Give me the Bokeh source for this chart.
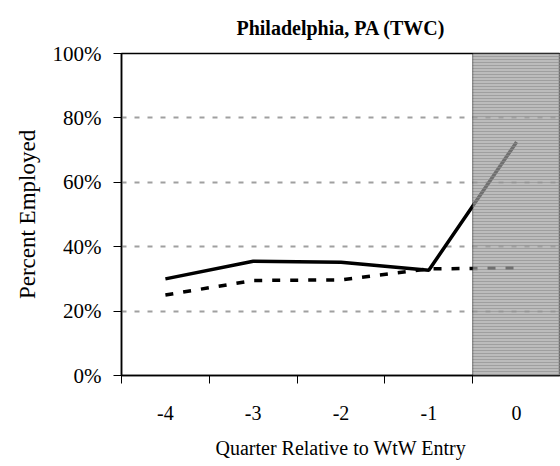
from bokeh.plotting import figure
from bokeh.models import Range1d, FixedTicker, Span, BoxAnnotation, CustomJSTickFormatter
from bokeh.embed import file_html
from bokeh.resources import INLINE

quarters = [-4, -3, -2, -1, 0]
tick_labels = ["-4", "-3", "-2", "-1", "0"]
employed_solid = [0.30, 0.355, 0.352, 0.327, 0.725]
employed_dashed = [0.25, 0.295, 0.297, 0.331, 0.334]
y_ticks = [0, 0.2, 0.4, 0.6, 0.8, 1.0]
shade_start = -0.5

FONT = "Liberation Serif"

p = figure(width=560, height=461, output_backend="svg", toolbar_location=None,
           x_range=Range1d(-4.5, 0.5), y_range=Range1d(0, 1.0),
           min_border_left=121, min_border_right=0, min_border_top=53, min_border_bottom=81)

p.title.text = "Philadelphia, PA (TWC)"
p.title.text_font = FONT
p.title.text_font_size = "20px"
p.title.text_font_style = "bold"
p.title.align = "center"
p.title.text_color = "black"
p.title.standoff = 29

p.background_fill_color = "white"
p.border_fill_color = "white"
p.outline_line_color = "black"
p.outline_line_width = 1.5

p.line(quarters, employed_solid, line_color="black", line_width=3.5)
p.line(quarters, employed_dashed, line_color="black", line_width=3.5, line_dash="8 10")

shade = BoxAnnotation(left=shade_start, right=0.5, bottom=0, top=1.0,
                      fill_color="#a0a0a0", fill_alpha=0.7,
                      hatch_pattern="horizontal_line", hatch_color="#8c8c8c",
                      hatch_alpha=0.6, hatch_scale=3, hatch_weight=1,
                      line_color=None, level="overlay")
p.add_layout(shade)
p.add_layout(Span(location=shade_start, dimension="height", line_color="black",
                  line_width=1, line_dash="1 1", level="overlay"))

# y axis
p.yaxis.ticker = FixedTicker(ticks=y_ticks)
p.yaxis.formatter = CustomJSTickFormatter(code="return Math.round(tick*100) + '%';")
p.yaxis.axis_label = "Percent Employed"
p.yaxis.major_tick_out = 8
p.yaxis.major_tick_in = 0
p.yaxis.minor_tick_out = 0
p.yaxis.minor_tick_in = 0
p.yaxis.major_label_standoff = 12
p.yaxis.axis_label_standoff = 10

# x axis
p.xaxis.ticker = FixedTicker(ticks=quarters, minor_ticks=[-4.5, -3.5, -2.5, -1.5, -0.5])
p.xaxis.major_label_overrides = {q: l for q, l in zip(quarters, tick_labels)}
p.xaxis.axis_label = "Quarter Relative to WtW Entry"
p.xaxis.major_tick_out = 0
p.xaxis.major_tick_in = 0
p.xaxis.minor_tick_out = 8
p.xaxis.minor_tick_in = 0
p.xaxis.minor_tick_line_color = "black"
p.xaxis.major_label_standoff = 22
p.xaxis.axis_label_standoff = 14

for ax in (p.xaxis, p.yaxis):
    ax.axis_line_color = "black"
    ax.axis_line_width = 1.5
    ax.major_tick_line_color = "black"
    ax.major_label_text_font = FONT
    ax.major_label_text_font_size = "21px"
    ax.major_label_text_color = "black"
    ax.axis_label_text_font = FONT
    ax.axis_label_text_font_size = "20px"
    ax.axis_label_text_font_style = "normal"
    ax.axis_label_text_color = "black"
p.yaxis.axis_label_text_font_size = "23px"
p.xaxis.major_label_text_font_size = "20px"

p.xgrid.grid_line_color = None
p.ygrid.ticker = FixedTicker(ticks=[0.2, 0.4, 0.6, 0.8])
p.ygrid.grid_line_color = "#a0a0a0"
p.ygrid.grid_line_width = 2
p.ygrid.grid_line_dash = "5 8"

open("out.html", "w").write(file_html(p, INLINE))
